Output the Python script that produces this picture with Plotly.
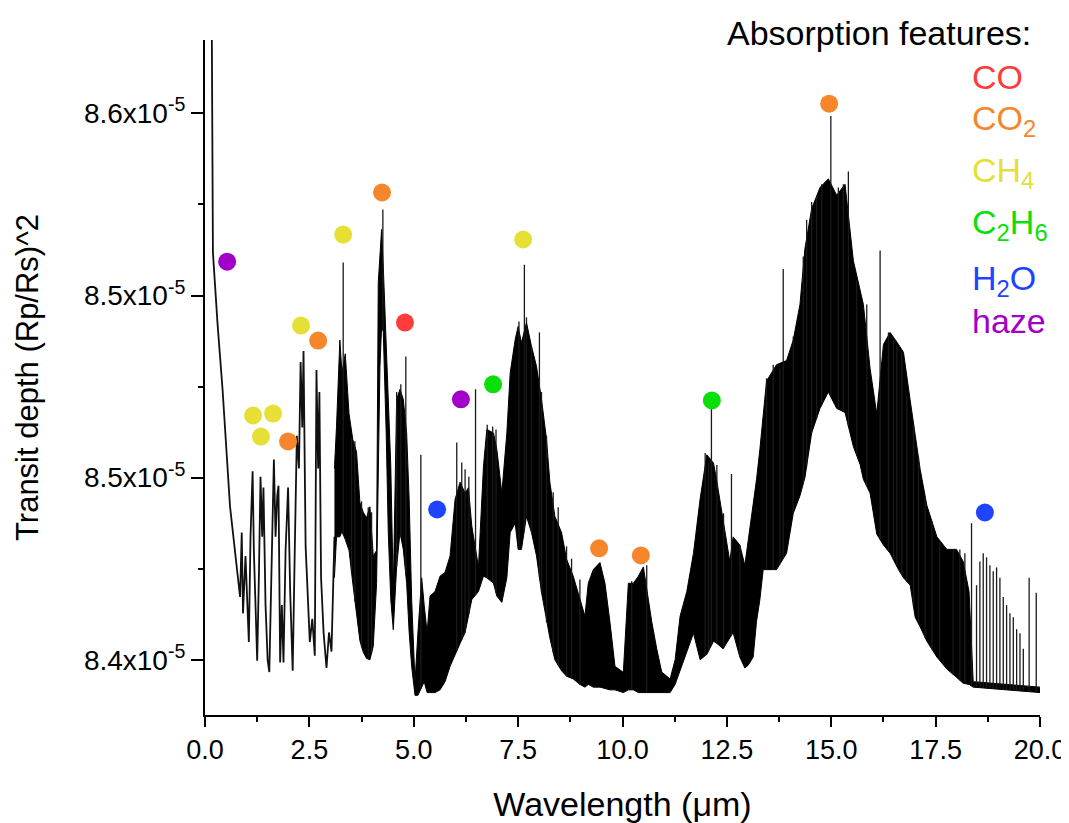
import numpy as np
import plotly.graph_objects as go

SCALE = 1e-5  # depth values below are in units of 1e-5

# Sparse (single-line) part of the spectrum, short wavelengths
sparse_wl = [0.14, 0.19, 0.30, 0.42, 0.60, 0.76, 0.84, 0.88, 0.91, 0.97, 1.00, 1.05, 1.09, 1.14,
             1.17, 1.21, 1.25, 1.29, 1.33, 1.37, 1.40, 1.45, 1.50, 1.54, 1.60, 1.65, 1.69, 1.73,
             1.76, 1.80, 1.84, 1.88, 1.93, 1.99, 2.04, 2.10, 2.15, 2.20, 2.25, 2.29, 2.33, 2.36,
             2.41, 2.47, 2.51, 2.57, 2.63, 2.67, 2.71, 2.74, 2.78, 2.84, 2.91, 2.97, 3.03, 3.10]
sparse_depth = [8.700, 8.549, 8.523, 8.499, 8.456, 8.434, 8.423, 8.4466, 8.417, 8.438, 8.425,
                8.4065, 8.445, 8.469, 8.440, 8.415, 8.3997, 8.430, 8.467, 8.445, 8.463, 8.420,
                8.400, 8.3955, 8.440, 8.4733, 8.445, 8.460, 8.4637, 8.399, 8.420, 8.399, 8.440,
                8.463, 8.425, 8.396, 8.440, 8.482, 8.470, 8.509, 8.485, 8.513, 8.4415, 8.420,
                8.4065, 8.415, 8.4015, 8.506, 8.470, 8.498, 8.430, 8.410, 8.397, 8.410, 8.403,
                8.445]

# Dense part of the spectrum: upper / lower envelope of the line forest
band_wl = [3.10, 3.15, 3.23, 3.28, 3.36, 3.45, 3.54, 3.63, 3.71, 3.79, 3.87, 3.95, 4.03, 4.11,
           4.15, 4.19, 4.23, 4.27, 4.34, 4.39, 4.45, 4.51, 4.59, 4.67, 4.75, 4.83, 4.89, 4.95,
           5.03, 5.10, 5.19, 5.25, 5.32, 5.39, 5.51, 5.63, 5.75, 5.87, 5.99, 6.11, 6.23, 6.31,
           6.39, 6.55, 6.67, 6.75, 6.91, 6.99, 7.11, 7.23, 7.31, 7.43, 7.50, 7.58, 7.70, 7.82,
           7.94, 8.06, 8.18, 8.26, 8.38, 8.54, 8.66, 8.82, 8.98, 9.10, 9.18, 9.30, 9.46, 9.58,
           9.70, 9.82, 10.02, 10.14, 10.26, 10.38, 10.50, 10.62, 10.70, 10.82, 10.94, 11.14,
           11.26, 11.38, 11.54, 11.70, 11.86, 12.02, 12.18, 12.26, 12.41, 12.57, 12.65, 12.81,
           12.93, 13.01, 13.13, 13.21, 13.29, 13.37, 13.45, 13.69, 13.93, 14.09, 14.25, 14.37,
           14.53, 14.73, 14.93, 15.13, 15.33, 15.53, 15.69, 15.77, 15.93, 16.09, 16.25, 16.41,
           16.61, 16.73, 16.89, 17.01, 17.13, 17.29, 17.53, 17.77, 18.00, 18.16, 18.30, 18.40,
           20.00]
band_upper = [8.470, 8.4854, 8.517, 8.505, 8.512, 8.490, 8.4806, 8.476, 8.4576, 8.454, 8.452,
              8.456, 8.438, 8.440, 8.538, 8.548, 8.5575, 8.544, 8.5172, 8.495, 8.4708, 8.425,
              8.4953, 8.499, 8.4953, 8.483, 8.4587, 8.422, 8.392, 8.410, 8.430, 8.420, 8.410,
              8.4233, 8.425, 8.4306, 8.432, 8.438, 8.4587, 8.465, 8.461, 8.463, 8.449, 8.434,
              8.4708, 8.4843, 8.483, 8.477, 8.461, 8.483, 8.505, 8.5172, 8.522, 8.516, 8.5234,
              8.5147, 8.5074, 8.4953, 8.4806, 8.465, 8.4525, 8.4466, 8.4368, 8.4306, 8.422,
              8.416, 8.428, 8.433, 8.4356, 8.428, 8.4137, 8.3976, 8.3954, 8.428, 8.428, 8.4306,
              8.434, 8.422, 8.414, 8.404, 8.3955, 8.393, 8.400, 8.416, 8.425, 8.439, 8.459,
              8.475, 8.472, 8.4653, 8.4507, 8.436, 8.445, 8.442, 8.4346, 8.4434, 8.4565, 8.466,
              8.477, 8.490, 8.502, 8.508, 8.5095, 8.517, 8.530, 8.5505, 8.565, 8.5728, 8.576,
              8.570, 8.574, 8.546, 8.5345, 8.530, 8.5066, 8.490, 8.5154, 8.5198, 8.5154, 8.5125,
              8.495, 8.483, 8.4697, 8.4565, 8.445, 8.4404, 8.4404, 8.436, 8.425, 8.392, 8.390]
band_lower = [8.430, 8.445, 8.445, 8.447, 8.444, 8.440, 8.428, 8.416, 8.407, 8.4028, 8.4005,
              8.400, 8.405, 8.428, 8.470, 8.507, 8.522, 8.520, 8.483, 8.4466, 8.422, 8.411,
              8.434, 8.4466, 8.4404, 8.428, 8.410, 8.3976, 8.387, 8.387, 8.390, 8.392, 8.388,
              8.388, 8.388, 8.389, 8.392, 8.3976, 8.402, 8.406, 8.410, 8.416, 8.422, 8.425,
              8.4306, 8.430, 8.428, 8.4233, 8.421, 8.430, 8.4466, 8.450, 8.4404, 8.4404, 8.4525,
              8.4466, 8.438, 8.4247, 8.4137, 8.408, 8.400, 8.396, 8.394, 8.393, 8.391, 8.390,
              8.391, 8.390, 8.390, 8.3895, 8.389, 8.389, 8.388, 8.389, 8.389, 8.388, 8.388,
              8.388, 8.388, 8.388, 8.388, 8.388, 8.391, 8.396, 8.403, 8.4097, 8.400, 8.402,
              8.4068, 8.406, 8.404, 8.408, 8.410, 8.401, 8.397, 8.398, 8.401, 8.414, 8.422,
              8.433, 8.433, 8.433, 8.439, 8.4536, 8.460, 8.4667, 8.483, 8.492, 8.498, 8.492,
              8.4905, 8.478, 8.4715, 8.466, 8.461, 8.446, 8.442, 8.439, 8.433, 8.430, 8.4273,
              8.4156, 8.412, 8.4068, 8.401, 8.3966, 8.3936, 8.3914, 8.391, 8.390, 8.388]

# Individual lines rising above the envelope
spike_wl = [3.31, 3.51, 3.59, 3.75, 3.91, 3.99, 4.26, 4.59, 4.69, 4.81, 5.17, 6.03, 6.15, 6.23,
            6.32, 6.48, 6.76, 6.89, 6.97, 7.52, 7.65, 7.70, 7.82, 8.01, 8.06, 8.18, 8.34, 8.46,
            8.66, 8.78, 8.98, 10.22, 10.58, 11.98, 12.06, 12.13, 12.26, 12.42, 12.61, 12.81,
            13.45, 13.61, 13.77, 13.85, 14.09, 14.33, 14.41, 14.53, 14.65, 14.77, 14.99, 15.17,
            15.29, 15.41, 15.61, 15.85, 16.17, 16.37, 16.49, 16.57, 16.69, 16.81, 16.97, 17.09,
            17.25, 17.41, 17.60, 17.92, 18.08, 18.20, 18.36, 19.74, 19.91]
spike_top = [8.5454, 8.4814, 8.480, 8.458, 8.4558, 8.454, 8.5648, 8.498, 8.5008, 8.511, 8.475,
             8.4795, 8.4722, 8.4697, 8.467, 8.499, 8.486, 8.4854, 8.4843, 8.5238, 8.5446,
             8.5253, 8.5147, 8.5198, 8.498, 8.482, 8.4613, 8.4558, 8.4415, 8.437, 8.4294,
             8.4287, 8.4346, 8.4757, 8.472, 8.492, 8.4713, 8.4536, 8.468, 8.442, 8.503, 8.508,
             8.5066, 8.543, 8.5183, 8.5476, 8.561, 8.5675, 8.5697, 8.574, 8.599, 8.5728, 8.574,
             8.5787, 8.5388, 8.530, 8.5498, 8.5198, 8.517, 8.5154, 8.5125, 8.4964, 8.486,
             8.4742, 8.4594, 8.4507, 8.4434, 8.4404, 8.4404, 8.439, 8.450, 8.430, 8.4245]

# Comb of lines at the long-wavelength end
comb_wl = [18.48, 18.56, 18.64, 18.72, 18.80, 18.88, 18.96, 19.04, 19.12, 19.20, 19.28, 19.36,
           19.44, 19.52, 19.60]
comb_top = [8.4273, 8.436, 8.439, 8.4375, 8.4346, 8.4324, 8.4338, 8.430, 8.423, 8.420, 8.417,
            8.4156, 8.4112, 8.4097, 8.404]

# Absorption-feature markers
feat_wl = [0.53, 1.15, 1.34, 1.63, 1.99, 2.30, 2.71, 3.31, 4.24, 4.79, 5.56, 6.13, 6.90, 7.62,
           9.44, 10.44, 12.14, 14.95, 18.68]
feat_depth = [8.5457, 8.4894, 8.4817, 8.4901, 8.4799, 8.5223, 8.5168, 8.5556, 8.5710, 8.5234,
              8.4550, 8.4953, 8.5008, 8.5538, 8.4408, 8.4382, 8.4949, 8.6035, 8.4539]
feat_species = ["haze", "CH4", "CH4", "CH4", "CO2", "CH4", "CO2", "CH4", "CO2", "CO", "H2O",
                "haze", "C2H6", "CH4", "CO2", "CO2", "C2H6", "CO2", "H2O"]

species = ["CO", "CO2", "CH4", "C2H6", "H2O", "haze"]
species_label = ["CO", "CO<sub>2</sub>", "CH<sub>4</sub>", "C<sub>2</sub>H<sub>6</sub>",
                 "H<sub>2</sub>O", "haze"]
species_color = {"CO": "#FF3C3C", "CO2": "#F5862C", "CH4": "#E6DF35", "C2H6": "#0ADF0A",
                 "H2O": "#1E44FF", "haze": "#A200C8"}

y_tickvals = [8.4, 8.4667, 8.5333, 8.6]
y_ticktext = ["8.4x10<sup>-5</sup>", "8.5x10<sup>-5</sup>", "8.5x10<sup>-5</sup>",
              "8.6x10<sup>-5</sup>"]
y_minor = [8.4333, 8.5, 8.5667]

FONT = "Liberation Sans, Arial, sans-serif"
BODY_MARGIN = 8  # default page margin around the figure div

fig = go.Figure()

s = lambda arr: [v * SCALE for v in arr]

# sparse spectrum
fig.add_trace(go.Scatter(x=sparse_wl, y=s(sparse_depth), mode="lines",
                         line=dict(color="#111111", width=1.8), hoverinfo="skip"))
# dense band
fig.add_trace(go.Scatter(x=band_wl, y=s(band_lower), mode="lines",
                         line=dict(color="black", width=1), hoverinfo="skip"))
fig.add_trace(go.Scatter(x=band_wl, y=s(band_upper), mode="lines", fill="tonexty",
                         fillcolor="black", line=dict(color="black", width=1),
                         hoverinfo="skip"))
# spikes
sx, sy = [], []
for w, t in zip(spike_wl + comb_wl, spike_top + comb_top):
    base = float(np.interp(w, band_wl, band_lower))
    sx += [w, w, None]
    sy += [base * SCALE, t * SCALE, None]
fig.add_trace(go.Scatter(x=sx, y=sy, mode="lines", line=dict(color="#1a1a1a", width=1.3),
                         hoverinfo="skip"))

# markers
for sp in species:
    xs = [w for w, k in zip(feat_wl, feat_species) if k == sp]
    ys = [d * SCALE for d, k in zip(feat_depth, feat_species) if k == sp]
    fig.add_trace(go.Scatter(x=xs, y=ys, mode="markers", name=sp,
                             marker=dict(size=18, color=species_color[sp], line=dict(width=0))))

# legend text
annots = [dict(text="Absorption features:", x=0.9916, y=1.0104, xanchor="right",
               yanchor="middle", font=dict(size=34, color="black"))]
label_y = [0.945, 0.881, 0.804, 0.727, 0.644, 0.583]
for sp, lab, yy in zip(species, species_label, label_y):
    annots.append(dict(text=lab, x=0.916, y=yy, xanchor="left", yanchor="middle",
                       font=dict(size=34, color=species_color[sp])))
for a in annots:
    a.update(xref="paper", yref="paper", showarrow=False, font=dict(family=FONT, **a["font"]))

fig.update_layout(
    width=1069 - BODY_MARGIN, height=823 - BODY_MARGIN,
    margin=dict(l=205 - BODY_MARGIN, r=29, t=40 - BODY_MARGIN, b=108, autoexpand=False),
    paper_bgcolor="white", plot_bgcolor="white",
    showlegend=False,
    font=dict(family=FONT, color="black"),
    annotations=annots,
    xaxis=dict(range=[0, 20], tick0=0, dtick=2.5, tickformat=".1f", automargin=False,
               showgrid=False, zeroline=False, showline=True, linecolor="black", linewidth=2,
               ticks="outside", ticklen=10, tickwidth=2, tickcolor="black",
               tickfont=dict(size=27, family=FONT),
               minor=dict(dtick=1.25, ticks="outside", ticklen=5, tickwidth=2,
                          tickcolor="black", showgrid=False),
               title=dict(text="Wavelength (\u03bcm)", font=dict(size=34, family=FONT),
                          standoff=28)),
    yaxis=dict(range=[8.3798 * SCALE, 8.6268 * SCALE], automargin=False,
               tickvals=s(y_tickvals), ticktext=y_ticktext,
               showgrid=False, zeroline=False, showline=True, linecolor="black", linewidth=2,
               ticks="outside", ticklen=12, tickwidth=2, tickcolor="black",
               tickfont=dict(size=28, family=FONT),
               minor=dict(tickvals=s(y_minor), ticks="outside", ticklen=5, tickwidth=2,
                          tickcolor="black", showgrid=False),
               title=dict(text="Transit depth (Rp/Rs)^2", font=dict(size=31, family=FONT),
                          standoff=36)),
)

fig.write_html("out.html")
